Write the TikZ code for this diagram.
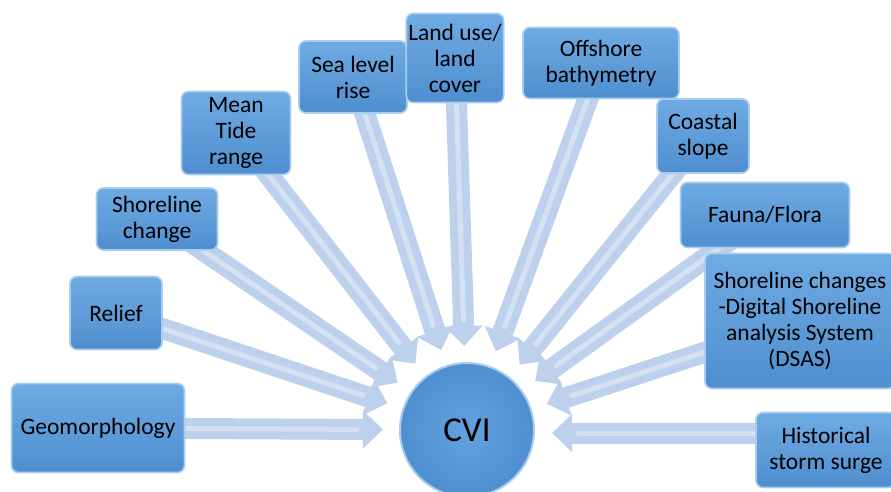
\documentclass[tikz,border=0pt]{standalone}
\usepackage{fontspec}
\setmainfont{Carlito}
\usetikzlibrary{arrows.meta,calc,backgrounds,shadings}
\definecolor{boxtop}{HTML}{6FABE3}
\definecolor{boxbot}{HTML}{4F8ECF}
\definecolor{boxedge}{HTML}{A9CDEF}
\definecolor{arrcol}{HTML}{BED1EC}
\definecolor{cvimid}{HTML}{62A2DE}
\definecolor{cviout}{HTML}{4F8FD0}
\tikzset{
  factor/.style={rectangle, rounded corners=7pt, top color=boxtop, bottom color=boxbot,
    draw=boxedge, line width=1.6pt, align=center, font=\fontsize{23.5}{26}\selectfont,
    text=black, inner sep=2pt},
  arr/.style={draw=arrcol, line width=21pt, -{Triangle[width=37pt,length=20pt]}},
  gloss/.style={draw=white, opacity=0.35, line width=5pt, line cap=round},
}
\newcommand{\cviarrow}[1]{%
  \draw[arr] (#1.center) -- ($(cvi.center)!84pt!(#1.center)$);
  \draw[gloss] (#1.center) -- ($(cvi.center)!110pt!(#1.center)$);
}
\begin{document}
\begin{tikzpicture}[x=1pt,y=-1pt]
\useasboundingbox (0,0) rectangle (891,491);
\node[factor, minimum width=173pt, minimum height=89pt] (geo) at (98,428) {Geomorphology};
\node[factor, minimum width=92pt, minimum height=73pt] (relief) at (116,313) {Relief};
\node[factor, minimum width=121pt, minimum height=62pt] (shore) at (157,219) {Shoreline\\change};
\node[factor, minimum width=109pt, minimum height=83pt] (tide) at (236,133) {Mean\\Tide\\range};
\node[factor, minimum width=108pt, minimum height=72pt] (sea) at (353,77) {Sea level\\rise};
\node[factor, minimum width=84pt, minimum height=89pt] (land) at (455,58) {Land use/\\land\\cover};
\node[factor, minimum width=156pt, minimum height=71pt] (off) at (601,63) {Offshore\\bathymetry};
\node[factor, minimum width=92pt, minimum height=74pt] (coast) at (703,136) {Coastal\\slope};
\node[factor, minimum width=169pt, minimum height=65pt] (fauna) at (765,215) {Fauna/Flora};
\node[factor, minimum width=190pt, minimum height=135pt] (dsas) at (800,321) {Shoreline changes\\-Digital Shoreline\\analysis System\\(DSAS)};
\node[factor, minimum width=140pt, minimum height=75pt] (hss) at (826,450) {Historical\\storm surge};
\node[circle, minimum size=134pt, inner sep=0pt, inner color=cvimid, outer color=cviout,
  draw=boxedge, line width=2pt, font=\fontsize{35}{37}\selectfont] (cvi) at (467,430) {CVI};
\coordinate (hssA) at (770,433);
\coordinate (hssT) at (552,433);
\begin{scope}[on background layer]
  \cviarrow{geo}
  \cviarrow{relief}
  \cviarrow{shore}
  \cviarrow{tide}
  \cviarrow{sea}
  \cviarrow{land}
  \cviarrow{off}
  \cviarrow{coast}
  \cviarrow{fauna}
  \cviarrow{dsas}
  \draw[arr] (hssA) -- (hssT);
  \draw[gloss] (hssA) -- ($(hssT)+(26,0)$);
\end{scope}
\end{tikzpicture}
\end{document}
